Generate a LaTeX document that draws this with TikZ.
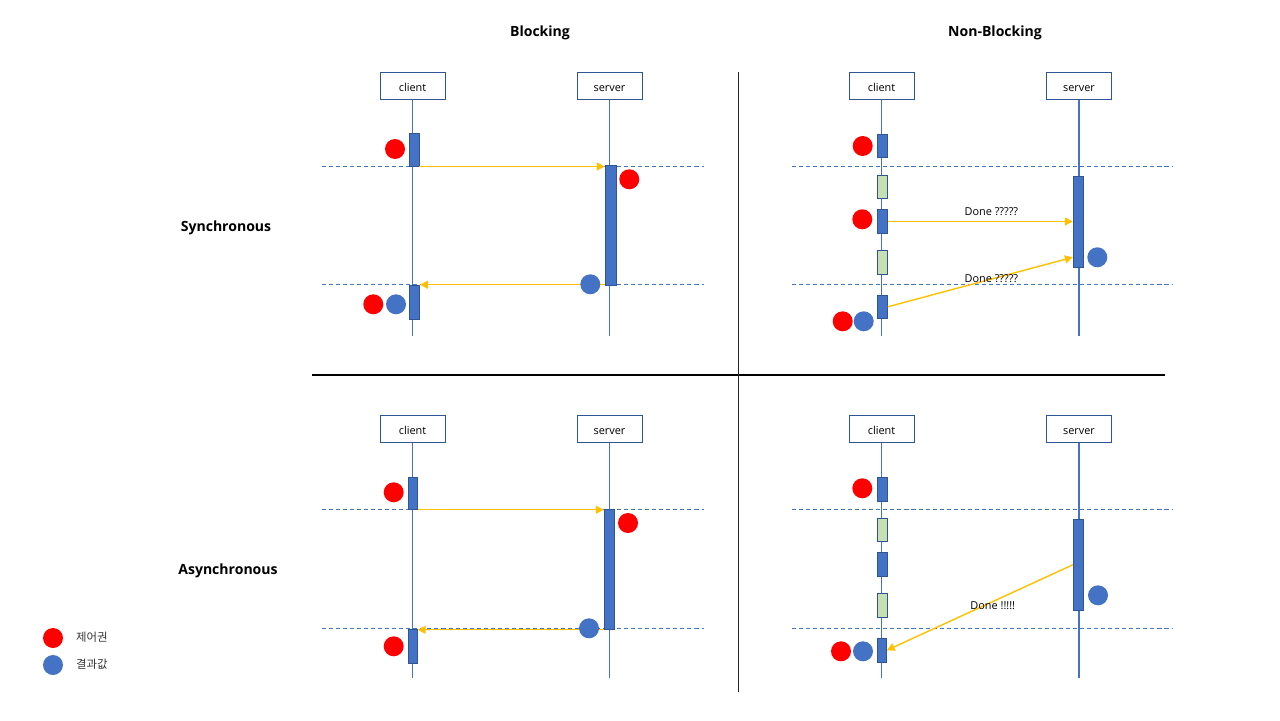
\documentclass[tikz,border=0pt]{standalone}
\usepackage{fontspec}
\setmainfont{Open Sans}
\newfontfamily\krfont{Noto Sans CJK KR}
\usetikzlibrary{arrows.meta}

\begin{document}
\begin{tikzpicture}[x=0.02cm,y=-0.02cm,
  party/.style={draw=boxblue,fill=white,line width=0.55pt,minimum width=1.3cm,minimum height=0.54cm,inner sep=0pt,text height=1.45ex,text depth=0.3ex,font=\fontsize{6.2}{7}\selectfont},
  lifeline/.style={draw=lineblue,line width=0.6pt},
  bar/.style={draw=boxblue,fill=barblue,line width=0.55pt,minimum width=0.2cm,inner sep=0pt},
  idle/.style={bar,fill=idlegreen},
  divider/.style={draw=barblue,dash pattern=on 2.3pt off 1.7pt,line width=0.5pt},
  call/.style={draw=callorange,line width=0.8pt,-{Triangle[width=4.5pt,length=4.5pt]}},
  ctrl/.style={circle,fill=red,minimum size=0.4cm,inner sep=0pt},
  result/.style={circle,fill=barblue,minimum size=0.4cm,inner sep=0pt},
  title/.style={font=\bfseries\fontsize{8}{10}\selectfont,text depth=0pt},
  note/.style={font=\fontsize{6.2}{7}\selectfont},
  legend/.style={anchor=west,font=\krfont\fontsize{6.5}{8}\selectfont,text=black!80}]
% Define colours
\definecolor{boxblue}{RGB}{47,85,151}
\definecolor{lineblue}{RGB}{68,114,196}
\definecolor{barblue}{RGB}{68,114,196}
\definecolor{idlegreen}{RGB}{197,224,180}
\definecolor{callorange}{RGB}{255,192,0}
\definecolor{red}{RGB}{255,0,0}

\useasboundingbox (0,0) rectangle (1280,720);

% Titles
\node[title] (blk) at (540,31) {Blocking};
\node[title] (nblk) at (995,31) {Non-Blocking};
\node[title] (sync) at (226,226) {Synchronous};
\node[title] (async) at (228,569) {Asynchronous};

% Quadrant lines
\draw[line width=0.9pt] (312,375) -- (1165,375);
\draw[line width=0.5pt,black!85] (738.5,72) -- (738.5,692);

% Synchronous + Blocking
\draw[divider] (322,166.3) -- (704,166.3);
\draw[divider] (322,284.3) -- (704,284.3);
\node[party] (sbc) at (412.5,86) {client};
\node[party] (sbs) at (609.5,86) {server};
\coordinate (sbce) at (412.5,336);
\coordinate (sbse) at (609.5,336);
\draw[lifeline] (sbc) -- (sbce);
\draw[lifeline] (sbs) -- (sbse);
\node[bar,minimum height=0.66cm] (sbc1) at (414,149.5) {};
\node[bar,minimum width=0.23cm,minimum height=2.41cm] (sbs1) at (611,225.5) {};
\node[bar,minimum height=0.68cm] (sbc2) at (414.5,302) {};
\draw[call] (sbc1.south east) -- (sbc1.south east -| sbs1.west);
\draw[call] ([yshift=0.03cm]sbs1.south west) -- ([yshift=0.03cm]sbs1.south west -| sbc2.east);
\node[ctrl] (sbr1) at (395,149) {};
\node[ctrl] (sbr2) at (629.3,179.3) {};
\node[result] (sbv1) at (590.3,284.3) {};
\node[ctrl] (sbr3) at (373.3,304.3) {};
\node[result] (sbv2) at (396,304.3) {};

% Synchronous + Non-Blocking
\draw[divider] (792,166.3) -- (1173,166.3);
\draw[divider] (792,284.3) -- (1173,284.3);
\node[party] (snc) at (881.5,86) {client};
\node[party] (sns) at (1079,86) {server};
\coordinate (snce) at (881.5,336);
\coordinate (snse) at (1079,336);
\draw[lifeline] (snc) -- (snce);
\draw[lifeline] (sns) -- (snse);
\node[bar,minimum height=0.46cm] (snc1) at (882.3,145.8) {};
\node[idle,minimum height=0.45cm] (snw1) at (882.3,186.8) {};
\node[bar,minimum height=0.47cm] (snc2) at (882.3,221.5) {};
\node[idle,minimum height=0.48cm] (snw2) at (882.3,262.3) {};
\node[bar,minimum height=0.46cm] (snc3) at (882.3,306.8) {};
\node[bar,minimum width=0.21cm,minimum height=1.82cm] (sns1) at (1078.5,221.8) {};
\draw[call] (snc2.east) -- (snc2.east -| sns1.west) node[note,pos=0.56,above=-0.5pt] {Done ?????};
\draw[call] (snc3.east) -- ([yshift=0.21cm]sns1.south west) node[note,pos=0.56] {Done ?????};
\node[ctrl] (snr1) at (862.7,146) {};
\node[ctrl] (snr2) at (862.3,219.3) {};
\node[result] (snv1) at (1097.3,257.3) {};
\node[ctrl] (snr3) at (842.7,321.3) {};
\node[result] (snv2) at (863.7,321.3) {};

% Asynchronous + Blocking
\draw[divider] (322,509) -- (704,509);
\draw[divider] (322,628.3) -- (704,628.3);
\node[party] (abc) at (412.5,429) {client};
\node[party] (abs) at (609.5,429) {server};
\coordinate (abce) at (412.5,678);
\coordinate (abse) at (609.5,678);
\draw[lifeline] (abc) -- (abce);
\draw[lifeline] (abs) -- (abse);
\node[bar,minimum width=0.18cm,minimum height=0.64cm] (abc1) at (412.8,493.3) {};
\node[bar,minimum width=0.21cm,minimum height=2.4cm] (abs1) at (609.5,569.3) {};
\node[bar,minimum width=0.18cm,minimum height=0.68cm] (abc2) at (412.8,646.3) {};
\draw[call] (abc1.south east) -- (abc1.south east -| abs1.west);
\draw[call] (abs1.south west) -- (abs1.south west -| abc2.east);
\node[ctrl] (abr1) at (393.7,492.3) {};
\node[ctrl] (abr2) at (628,523) {};
\node[result] (abv1) at (589,628.3) {};
\node[ctrl] (abr3) at (393.7,646.3) {};

% Asynchronous + Non-Blocking
\draw[divider] (792,509) -- (1173,509);
\draw[divider] (792,628.7) -- (1173,628.7);
\node[party] (anc) at (881.5,429) {client};
\node[party] (ans) at (1079,429) {server};
\coordinate (ance) at (881.5,678);
\coordinate (anse) at (1079,678);
\draw[lifeline] (anc) -- (ance);
\draw[lifeline] (ans) -- (anse);
\node[bar,minimum height=0.48cm] (anc1) at (882.3,489.3) {};
\node[idle,minimum height=0.46cm] (anw1) at (882.3,529.8) {};
\node[bar,minimum height=0.48cm] (anc2) at (882.3,564.3) {};
\node[idle,minimum height=0.48cm] (anw2) at (882.3,605.3) {};
\node[bar,minimum width=0.18cm,minimum height=0.48cm] (anc3) at (881.8,650.3) {};
\node[bar,minimum width=0.21cm,minimum height=1.82cm] (ans1) at (1078.5,564.8) {};
\draw[call] (ans1.west) -- (anc3.east) node[note,pos=0.43,yshift=-2.5pt] {Done !!!!!};
\node[ctrl] (anr1) at (862.3,488.3) {};
\node[result] (anv1) at (1098,595.3) {};
\node[ctrl] (anr2) at (841,651.3) {};
\node[result] (anv2) at (863,651.3) {};

% Legend
\node[ctrl] (lgr) at (53,638) {};
\node[result] (lgv) at (53,665) {};
\node[legend] (lgrt) at (70,637) {제어권};
\node[legend] (lgvt) at (70,664) {결과값};
\end{tikzpicture}
\end{document}
